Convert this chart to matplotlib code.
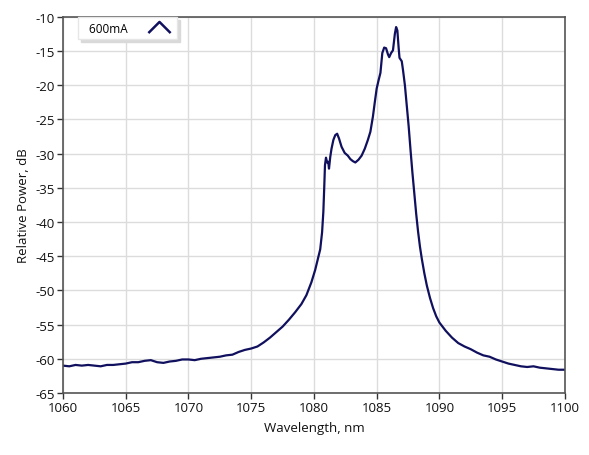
import matplotlib
matplotlib.use("Agg")
import matplotlib.pyplot as plt
from matplotlib.lines import Line2D

plt.rcParams["font.family"] = ["Open Sans", "DejaVu Sans"]
plt.rcParams["axes.unicode_minus"] = False

# spectrum
wavelength = [
    1060.0, 1060.5, 1061.0, 1061.5, 1062.0, 1062.5, 1063.0, 1063.5, 1064.0, 1064.5,
    1065.0, 1065.5, 1066.0, 1066.5, 1067.0, 1067.5, 1068.0, 1068.5, 1069.0, 1069.5,
    1070.0, 1070.5, 1071.0, 1071.5, 1072.0, 1072.5, 1073.0, 1073.5, 1074.0, 1074.5,
    1075.0, 1075.5, 1076.0, 1076.5, 1077.0, 1077.5, 1078.0, 1078.5, 1079.0, 1079.4,
    1079.8, 1080.1, 1080.3, 1080.5, 1080.65, 1080.75, 1080.82, 1080.88, 1080.96, 1081.05,
    1081.14, 1081.2, 1081.3, 1081.4, 1081.55, 1081.7, 1081.85, 1082.0, 1082.2, 1082.45,
    1082.7, 1082.9, 1083.1, 1083.3, 1083.55, 1083.8, 1084.05, 1084.3, 1084.5, 1084.7,
    1084.85, 1085.0, 1085.15, 1085.3, 1085.45, 1085.6, 1085.75, 1085.9, 1086.0, 1086.15,
    1086.3, 1086.45, 1086.55, 1086.65, 1086.75, 1086.82, 1087.0, 1087.1, 1087.25, 1087.4,
    1087.55, 1087.7, 1087.85, 1088.0, 1088.15, 1088.3, 1088.45, 1088.6, 1088.8, 1089.0,
    1089.25, 1089.5, 1089.75, 1090.0, 1090.5,
    1091.0, 1091.5, 1092.0, 1092.5, 1093.0, 1093.5, 1094.0, 1094.5, 1095.0, 1095.5,
    1096.0, 1096.5, 1097.0, 1097.5, 1098.0, 1098.5, 1099.0, 1099.5, 1100.0,
]
power_600mA = [
    -61.0, -61.1, -60.9, -61.0, -60.9, -61.0, -61.1, -60.9, -60.9, -60.8,
    -60.7, -60.5, -60.5, -60.3, -60.2, -60.5, -60.6, -60.4, -60.3, -60.1,
    -60.1, -60.2, -60.0, -59.9, -59.8, -59.7, -59.5, -59.4, -59.0, -58.7,
    -58.5, -58.2, -57.6, -56.9, -56.1, -55.3, -54.3, -53.2, -52.0, -50.7,
    -48.8, -47.0, -45.5, -44.0, -41.5, -38.5, -35.0, -31.7, -30.6, -31.3,
    -31.2, -32.2, -30.5, -29.3, -28.0, -27.3, -27.1, -27.8, -29.0, -29.9,
    -30.3, -30.8, -31.1, -31.3, -30.9, -30.3, -29.3, -28.0, -26.8, -24.6,
    -22.5, -20.5, -19.3, -18.2, -15.3, -14.5, -14.6, -15.5, -15.9, -15.3,
    -14.9, -12.5, -11.5, -12.0, -14.5, -16.0, -16.5, -17.8, -20.0, -23.0,
    -26.0, -29.5, -32.8, -35.8, -38.8, -41.4, -43.6, -45.4, -47.5, -49.3,
    -51.1, -52.6, -53.8, -54.7, -55.9,
    -56.9, -57.7, -58.2, -58.6, -59.1, -59.5, -59.7, -60.1, -60.4, -60.7,
    -60.9, -61.1, -61.2, -61.1, -61.3, -61.4, -61.5, -61.6, -61.6,
]

x_ticks = [1060, 1065, 1070, 1075, 1080, 1085, 1090, 1095, 1100]
y_ticks = [-65, -60, -55, -50, -45, -40, -35, -30, -25, -20, -15, -10]

line_color = "#10105e"

fig = plt.figure(figsize=(5.89, 4.56), dpi=100)
ax = fig.add_axes([0.107, 0.136, 0.852, 0.825])

ax.plot(wavelength, power_600mA, color=line_color, linewidth=1.6)

ax.set_xlim(1060, 1100)
ax.set_ylim(-65, -10)
ax.set_xticks(x_ticks)
ax.set_yticks(y_ticks)
ax.set_xticklabels([str(t) for t in x_ticks])
ax.set_yticklabels([str(t) for t in y_ticks])
ax.grid(True, color="#dcdcdc", linewidth=1.0)
ax.set_axisbelow(True)
ax.tick_params(direction="out", length=4, width=1, color="#333333",
               labelsize=9.5, labelcolor="#111111", pad=2)
for s in ax.spines.values():
    s.set_color("#555555")
    s.set_linewidth(1.2)

ax.set_xlabel("Wavelength, nm", fontsize=9.5, color="#111111", labelpad=5)
ax.set_ylabel("Relative Power, dB", fontsize=9.5, color="#111111", labelpad=4)

# legend with a chevron glyph like the reference
chevron = [(-1, -0.5), (0, 0.5), (1, -0.5)]
handle = Line2D([], [], linestyle="none", marker=chevron, markersize=16,
                markerfacecolor="none", markeredgecolor=line_color,
                markeredgewidth=1.8)
leg = ax.legend([handle], ["  600mA"], loc="upper left",
                bbox_to_anchor=(0.03, 1.0), fontsize=8.5, frameon=True,
                fancybox=False, shadow={"color": "#d9d9d9", "alpha": 1},
                markerfirst=False, handlelength=2.2, borderpad=0.4,
                handletextpad=1.6, borderaxespad=0.0)
leg.get_frame().set_edgecolor("#e6e6e6")
leg.get_frame().set_linewidth(1.0)

fig.savefig("out.png", dpi=100)
